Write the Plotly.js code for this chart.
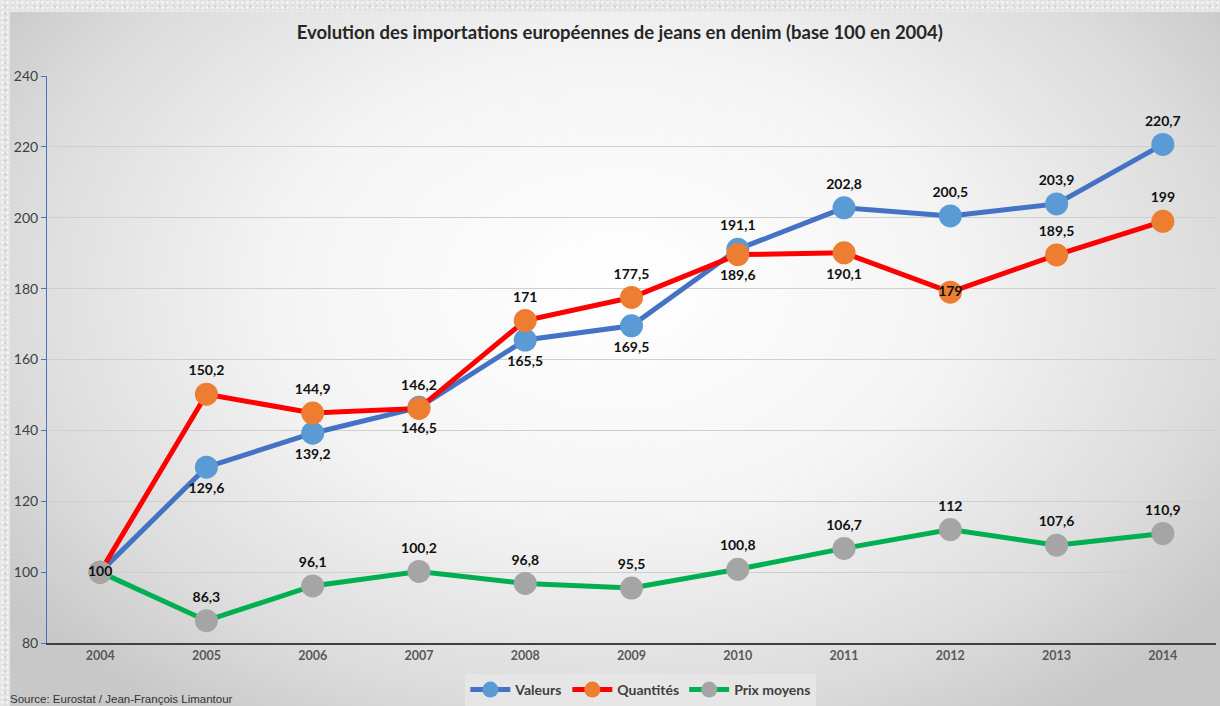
<!DOCTYPE html>
<html>
<head>
<meta charset="utf-8">
<script src="https://cdn.plot.ly/plotly-3.0.1.min.js"></script>
<style>
  html, body { margin:0; padding:0; width:1220px; height:706px; overflow:hidden; }
  body { background:#e4e4e4; background-image: radial-gradient(rgba(255,255,255,0.6) 1px, transparent 1.5px), radial-gradient(rgba(170,170,170,0.35) 1px, transparent 1.5px); background-size: 5px 5px, 7px 7px; background-position: 0 0, 2px 3px; }
  #panel { position:absolute; left:10px; top:12px; width:1210px; height:694px;
    background: radial-gradient(ellipse 62% 75% at 50% 40%, #ffffff 0%, #f4f4f4 45%, #dcdcdc 80%, #c8c8c8 100%); }
  #chart { position:absolute; left:0; top:0; width:1220px; height:706px; }
</style>
</head>
<body>
<div id="panel"></div>
<div id="chart"></div>
<script>
const years = ['2004','2005','2006','2007','2008','2009','2010','2011','2012','2013','2014'];
const valeurs = [100, 129.6, 139.2, 146.5, 165.5, 169.5, 191.1, 202.8, 200.5, 203.9, 220.7];
const quantites = [100, 150.2, 144.9, 146.2, 171, 177.5, 189.6, 190.1, 179, 189.5, 199];
const prixMoyens = [100, 86.3, 96.1, 100.2, 96.8, 95.5, 100.8, 106.7, 112, 107.6, 110.9];

const valeursPos = ['middle center','bottom center','bottom center','bottom center','bottom center','bottom center','top center','top center','top center','top center','top center'];
const quantitesPos = ['middle center','top center','top center','top center','top center','top center','bottom center','bottom center','middle center','top center','top center'];
const prixPos = ['middle center','top center','top center','top center','top center','top center','top center','top center','top center','top center','top center'];

const fmt = v => String(v).replace('.', ',');
const labelFont = {family:'Lato, "Open Sans", sans-serif', size:14, color:'#111111', weight:'bold'};

function series(name, vals, pos, lineColor, markerColor, showText) {
  return {
    type:'scatter', mode:'lines+markers+text', name:name,
    x: years, y: vals,
    text: vals.map((v,i) => (showText[i] ? fmt(v) : '')),
    textposition: pos,
    textfont: labelFont,
    line:{color:lineColor, width:5},
    marker:{color:markerColor, size:23, line:{width:0}},
    hoverinfo:'skip', cliponaxis:false
  };
}

const allTrue = years.map(() => true);
const noFirst = years.map((y,i) => i !== 0);

const data = [
  series('Valeurs', valeurs, valeursPos, '#4472C4', '#5B9BD5', noFirst),
  series('Quantités', quantites, quantitesPos, '#FF0000', '#ED7D31', noFirst),
  series('Prix moyens', prixMoyens, prixPos, '#00B050', '#A5A5A5', allTrue)
];

const layout = {
  width:1220, height:706,
  paper_bgcolor:'rgba(0,0,0,0)', plot_bgcolor:'rgba(0,0,0,0)',
  margin:{l:47, r:4, t:76, b:63, autoexpand:false},
  title:{text:'Evolution des importations européennes de jeans en denim (base 100 en 2004)',
    font:{family:'Lato, "Open Sans", sans-serif', size:18.5, color:'#262626', weight:'bold'},
    x:0.508, xanchor:'center', y:1-33/706, yref:'container', yanchor:'middle'},
  xaxis:{type:'category', range:[-0.5,10.5], showgrid:false, zeroline:false,
    showline:true, linecolor:'#404040', linewidth:2, ticks:'',
    tickfont:{family:'Lato, "Open Sans", sans-serif', size:12.5, color:'#595959', weight:'bold'}},
  yaxis:{range:[80,240], dtick:20, tick0:80, showgrid:true, gridcolor:'#cfcfcf', gridwidth:1,
    zeroline:false, showline:true, linecolor:'#4472C4', linewidth:1,
    ticks:'outside', ticklen:5, tickcolor:'#4472C4',
    tickfont:{family:'Lato, "Open Sans", sans-serif', size:14, color:'#404040'}},
  showlegend:true,
  legend:{orientation:'h', x:0.508, xanchor:'center', y:0, yref:'container', yanchor:'bottom',
    bgcolor:'#e6e6e6', font:{family:'Lato, "Open Sans", sans-serif', size:14, color:'#404040', weight:'bold'},
    itemwidth:40, tracegroupgap:0},
  annotations:[{text:'Source: Eurostat / Jean-François Limantour', xref:'paper', yref:'paper',
    x:-0.033, xanchor:'left', y:-0.085, yanchor:'top', showarrow:false,
    font:{family:'Liberation Sans, Arial, sans-serif', size:11.5, color:'#333333'}}]
};

Plotly.newPlot('chart', data, layout, {displayModeBar:false, staticPlot:true});
</script>
</body>
</html>
